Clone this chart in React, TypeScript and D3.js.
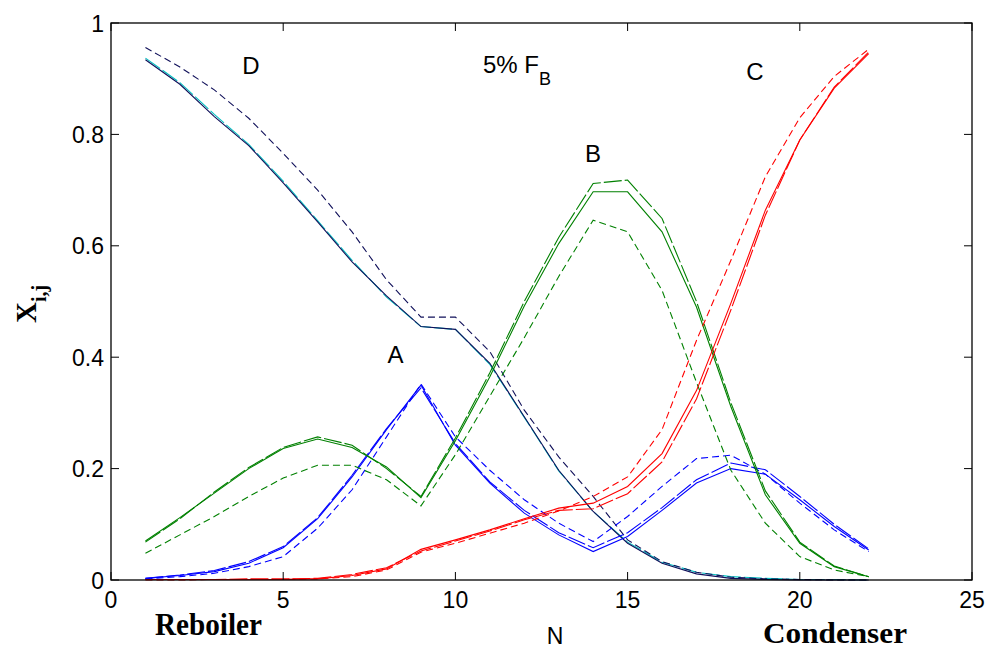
import React from "react";
import * as d3 from "d3";

const stages = d3.range(1, 23);

// Component A (blue)
const aSolid = [0.003,0.008,0.015,0.030,0.058,0.110,0.185,0.270,0.350,0.242,0.174,0.120,0.081,0.051,0.078,0.125,0.174,0.200,0.190,0.144,0.096,0.054];
const aLong = [0.003,0.009,0.017,0.033,0.060,0.112,0.188,0.272,0.345,0.245,0.176,0.125,0.085,0.058,0.085,0.130,0.180,0.210,0.198,0.150,0.100,0.056];
const aShort = [0.002,0.006,0.012,0.024,0.042,0.093,0.162,0.257,0.352,0.257,0.197,0.144,0.102,0.069,0.114,0.168,0.218,0.224,0.190,0.138,0.090,0.051];

// Component B (green)
const bSolid = [0.070,0.112,0.156,0.200,0.236,0.253,0.238,0.203,0.148,0.250,0.365,0.492,0.604,0.697,0.697,0.625,0.490,0.311,0.153,0.066,0.024,0.006];
const bLong = [0.068,0.110,0.158,0.202,0.238,0.257,0.242,0.200,0.150,0.255,0.372,0.500,0.615,0.712,0.718,0.649,0.500,0.318,0.160,0.068,0.025,0.006];
const bShort = [0.048,0.081,0.114,0.150,0.183,0.206,0.206,0.180,0.133,0.225,0.330,0.435,0.545,0.646,0.625,0.520,0.355,0.197,0.102,0.042,0.018,0.006];

// Component C (red)
const cSolid = [0.001,0.001,0.001,0.001,0.001,0.002,0.008,0.020,0.055,0.072,0.090,0.110,0.129,0.138,0.168,0.227,0.340,0.497,0.664,0.790,0.883,0.945];
const cLong = [0.001,0.001,0.001,0.002,0.002,0.003,0.010,0.022,0.052,0.070,0.088,0.108,0.125,0.128,0.155,0.212,0.325,0.485,0.655,0.790,0.885,0.948];
const cShort = [0.000,0.000,0.001,0.001,0.001,0.002,0.006,0.018,0.050,0.066,0.084,0.102,0.124,0.150,0.185,0.270,0.430,0.574,0.724,0.830,0.904,0.953];

// Component D (navy / cyan)
const dSolid = [0.934,0.890,0.832,0.780,0.713,0.643,0.571,0.510,0.455,0.450,0.389,0.293,0.197,0.123,0.066,0.030,0.011,0.003,0.001,0.000,0.000,0.000];
const dLong = [0.937,0.893,0.836,0.782,0.716,0.645,0.574,0.508,0.455,0.450,0.387,0.292,0.196,0.123,0.068,0.032,0.014,0.006,0.003,0.001,0.001,0.000];
const dShort = [0.956,0.921,0.880,0.829,0.766,0.700,0.625,0.539,0.472,0.472,0.410,0.305,0.221,0.150,0.072,0.033,0.014,0.005,0.002,0.001,0.000,0.000];

const xTicks = [0, 5, 10, 15, 20, 25];
const yTicks = [0, 0.2, 0.4, 0.6, 0.8, 1];
const yTickLabels = ["0", "0.2", "0.4", "0.6", "0.8", "1"];

const W = 993;
const H = 652;
const L = 111, R = 972, T = 23, B = 580;

const x = d3.scaleLinear().domain([0, 25]).range([L, R]);
const y = d3.scaleLinear().domain([0, 1]).range([B, T]);

const line = d3
  .line<[number, number]>()
  .x((d) => x(d[0]))
  .y((d) => y(d[1]));

const LONG = "18,3";
const SHORT = "7,4";

type S = { vals: number[]; color: string; dash?: string };
const series: S[] = [
  { vals: dLong, color: "#00c0c0", dash: LONG },
  { vals: dSolid, color: "#10105a" },
  { vals: dShort, color: "#10105a", dash: SHORT },
  { vals: aSolid, color: "#0000ff" },
  { vals: aLong, color: "#0000ff", dash: LONG },
  { vals: aShort, color: "#0000ff", dash: SHORT },
  { vals: bSolid, color: "#008000" },
  { vals: bLong, color: "#008000", dash: LONG },
  { vals: bShort, color: "#008000", dash: SHORT },
  { vals: cSolid, color: "#ff0000" },
  { vals: cLong, color: "#ff0000", dash: LONG },
  { vals: cShort, color: "#ff0000", dash: SHORT },
];

const sans = "'Liberation Sans', Arial, sans-serif";
const serif = "'Liberation Serif', 'Times New Roman', serif";

export default function App() {
  return (
    <svg
      width={W}
      height={H}
      style={{ position: "absolute", left: 0, top: 0, background: "#fff" }}
    >
      <rect x={0} y={0} width={W} height={H} fill="#fff" />
      {series.map((s, i) => (
        <path
          key={i}
          d={line(stages.map((n, j) => [n, s.vals[j]] as [number, number])) || ""}
          fill="none"
          stroke={s.color}
          strokeWidth={1.1}
          strokeDasharray={s.dash}
        />
      ))}
      {/* frame */}
      <rect x={L} y={T} width={R - L} height={B - T} fill="none" stroke="#000" strokeWidth={1.3} />
      {xTicks.map((t) => (
        <g key={"x" + t}>
          <line x1={x(t)} x2={x(t)} y1={B} y2={B - 8} stroke="#000" />
          <line x1={x(t)} x2={x(t)} y1={T} y2={T + 8} stroke="#000" />
          <text x={x(t)} y={608} textAnchor="middle" fontFamily={sans} fontSize={23}>
            {t}
          </text>
        </g>
      ))}
      {yTicks.map((t, i) => (
        <g key={"y" + t}>
          <line x1={L} x2={L + 8} y1={y(t)} y2={y(t)} stroke="#000" />
          <line x1={R} x2={R - 8} y1={y(t)} y2={y(t)} stroke="#000" />
          <text x={104} y={y(t) + 8.5} textAnchor="end" fontFamily={sans} fontSize={23}>
            {yTickLabels[i]}
          </text>
        </g>
      ))}
      {/* annotations */}
      <text x={251} y={74} textAnchor="middle" fontFamily={sans} fontSize={24}>D</text>
      <text x={755} y={80} textAnchor="middle" fontFamily={sans} fontSize={24}>C</text>
      <text x={593} y={162} textAnchor="middle" fontFamily={sans} fontSize={24}>B</text>
      <text x={395.5} y={363} textAnchor="middle" fontFamily={sans} fontSize={24}>A</text>
      <text x={483} y={73} fontFamily={sans} fontSize={24}>
        5% F
        <tspan fontSize={18} dy={12}>B</tspan>
      </text>
      {/* axis labels */}
      <text x={155} y={635} fontFamily={serif} fontWeight="bold" fontSize={31} textLength={107} lengthAdjust="spacingAndGlyphs">
        Reboiler
      </text>
      <text x={555} y={644} textAnchor="middle" fontFamily={sans} fontSize={23}>N</text>
      <text x={763} y={643} fontFamily={serif} fontWeight="bold" fontSize={30} textLength={144} lengthAdjust="spacingAndGlyphs">
        Condenser
      </text>
      <text transform="translate(36,323) rotate(-90)" fontFamily={serif} fontWeight="bold" fontSize={29}>
        X
        <tspan fontSize={20} dy={10}>i,j</tspan>
      </text>
    </svg>
  );
}
